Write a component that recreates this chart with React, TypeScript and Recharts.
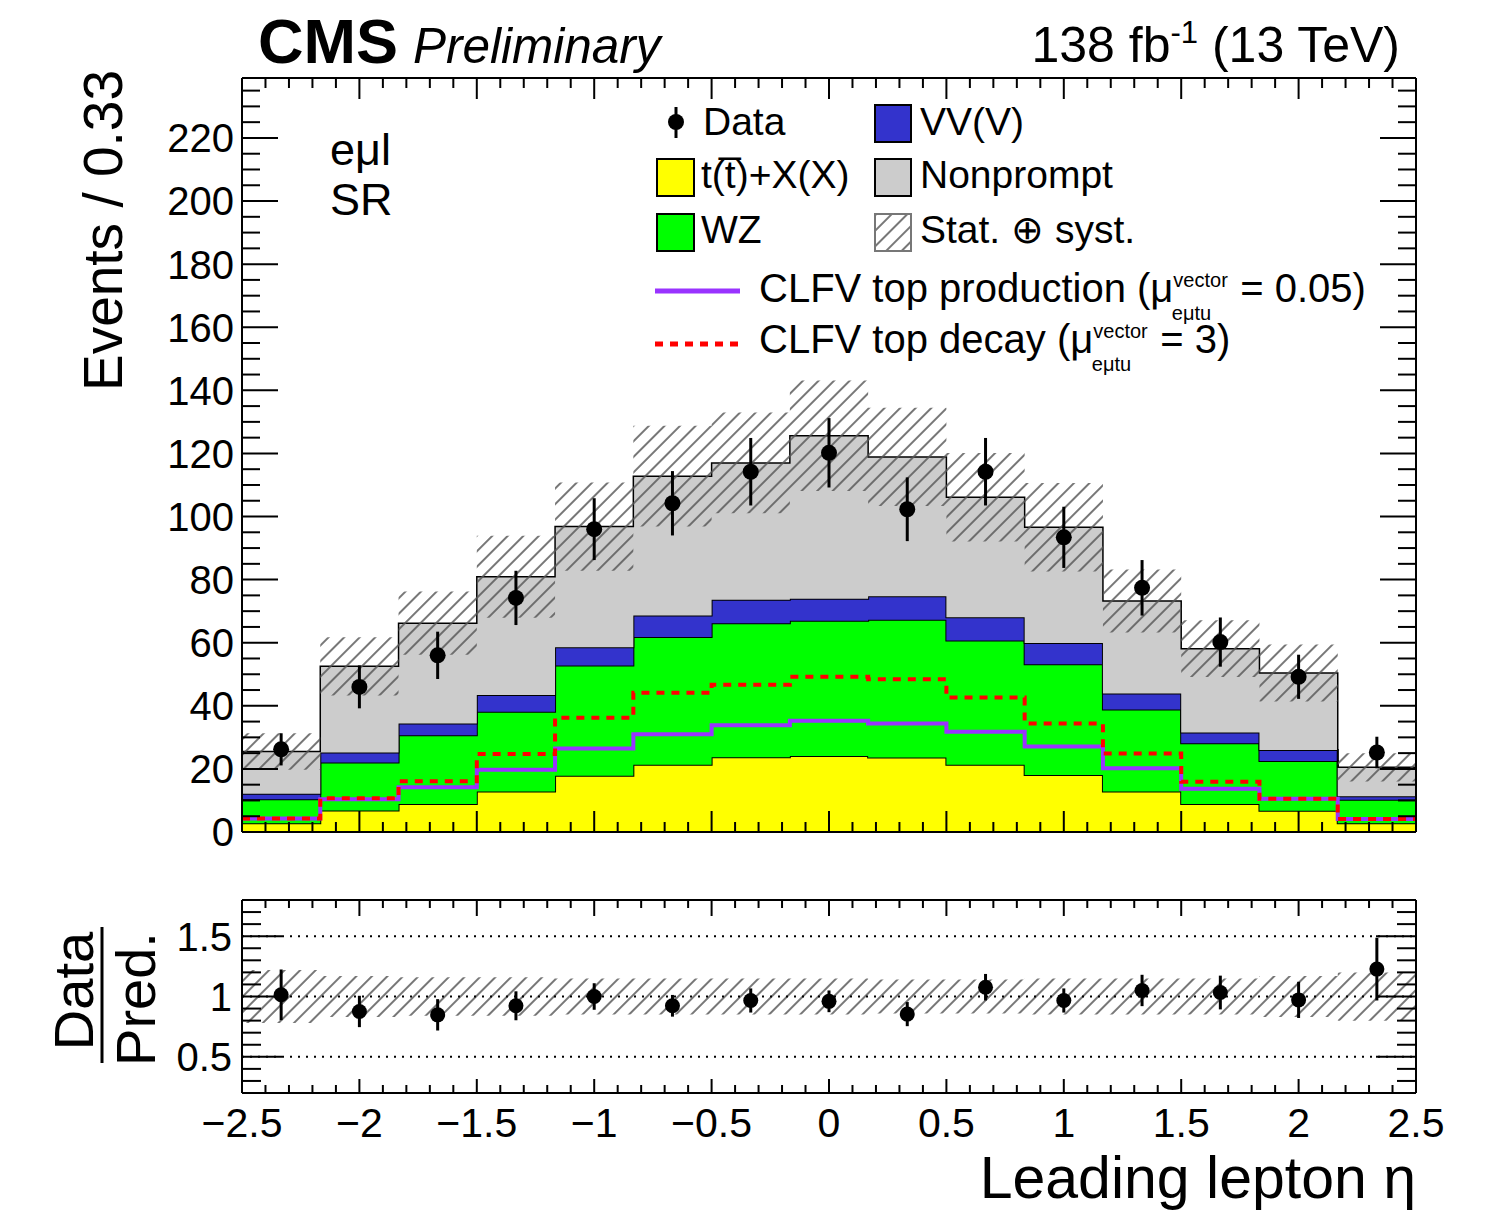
import {
  Area,
  ComposedChart,
  ErrorBar,
  Line,
  ReferenceLine,
  Scatter,
  XAxis,
  YAxis,
} from 'recharts';

const FONT = '"Liberation Sans", Arial, Helvetica, sans-serif';

// binning of leading lepton eta: 15 bins of width 1/3
const BIN_EDGES = [
  -2.5, -2.1667, -1.8333, -1.5, -1.1667, -0.8333, -0.5, -0.1667, 0.1667, 0.5, 0.8333, 1.1667, 1.5, 1.8333,
  2.1667, 2.5,
];
const BIN_CENTERS = [
  -2.3333, -2, -1.6667, -1.3333, -1, -0.6667, -0.3333, 0, 0.3333, 0.6667, 1, 1.3333, 1.6667, 2, 2.3333,
];

// stacked backgrounds (per bin)
const ttX = [2.8, 6.8, 8.9, 12.8, 17.8, 21.3, 23.7, 24.1, 23.6, 21.3, 18.1, 12.8, 8.9, 6.7, 2.8];
const wz = [7.6, 15.2, 21.8, 25.3, 35.0, 40.5, 42.5, 42.9, 43.7, 39.4, 35.1, 26.0, 19.2, 15.8, 7.4];
const vvv = [1.7, 3.2, 3.7, 5.3, 5.8, 6.8, 7.4, 6.9, 7.4, 7.4, 6.7, 5.1, 3.4, 3.5, 1.1];
const nonprompt = [13.4, 27.3, 31.8, 37.5, 38.2, 44.2, 43.4, 51.7, 44.2, 38.0, 36.7, 29.3, 26.6, 24.4, 9.2];
const bkgUnc = [5.8, 9.2, 10.0, 13.0, 14.0, 16.0, 16.0, 17.5, 15.6, 14.0, 14.0, 10.0, 9.0, 9.0, 4.5];

// signals
const sigProd = [4.3, 10.4, 14.2, 19.7, 26.5, 31.0, 33.8, 35.3, 34.4, 31.8, 27.1, 20.2, 13.7, 10.5, 4.1];
const sigDecay = [4.3, 10.7, 16.1, 24.7, 36.2, 44.1, 46.7, 49.2, 48.4, 42.6, 34.4, 24.9, 15.9, 10.5, 4.1];

// observed
const data = [26.2, 46, 56, 74.2, 96, 104.2, 114.2, 120.2, 102.3, 114.2, 93.4, 77.4, 60.2, 49.2, 25.2];
const dataErr = [5.1, 6.8, 7.5, 8.6, 9.8, 10.2, 10.7, 11.0, 10.1, 10.7, 9.7, 8.8, 7.8, 7.0, 5.0];

// ratio panel
const ratio = [1.014, 0.876, 0.848, 0.923, 1.0, 0.923, 0.967, 0.96, 0.854, 1.077, 0.967, 1.05, 1.033, 0.972, 1.227];
const ratioErr = [0.21, 0.13, 0.13, 0.12, 0.11, 0.09, 0.1, 0.09, 0.1, 0.11, 0.1, 0.13, 0.14, 0.15, 0.26];
const ratioUnc = [0.22, 0.17, 0.16, 0.16, 0.15, 0.15, 0.15, 0.15, 0.14, 0.14, 0.15, 0.15, 0.15, 0.17, 0.2];

const X_MAJOR = [-2.5, -2, -1.5, -1, -0.5, 0, 0.5, 1, 1.5, 2, 2.5];
const Y_MAJOR = [0, 20, 40, 60, 80, 100, 120, 140, 160, 180, 200, 220];
const RATIO_MAJOR = [0.5, 1, 1.5];

const Y_MAX = 239;
const MAIN_TOP = 78;
const PLOT_RIGHT = 1416;
const RATIO_TOP = 20;

const r1 = (v: number) => Math.round(v * 10) / 10;
const xTicks = Array.from({ length: 51 }, (_, i) => r1(-2.5 + i * 0.1));
const mainYTicks = Array.from({ length: 48 }, (_, i) => i * 5);
const ratioYTicks = Array.from({ length: 17 }, (_, i) => r1(0.2 + i * 0.1));

const fmt = (v: number) => (v < 0 ? `\u2212${Math.abs(v)}` : `${v}`);

const stepRows = BIN_EDGES.map((x, i) => {
  const k = Math.min(i, ttX.length - 1);
  const total = ttX[k] + wz[k] + vvv[k] + nonprompt[k];
  return {
    x,
    ttx: ttX[k],
    wz: wz[k],
    vv: vvv[k],
    np: nonprompt[k],
    band: [total - bkgUnc[k], total + bkgUnc[k]],
    prod: sigProd[k],
    dec: sigDecay[k],
    rband: [1 - ratioUnc[k], 1 + ratioUnc[k]],
  };
});

const dataPts = BIN_CENTERS.map((x, i) => ({ x, y: data[i], err: dataErr[i] }));
const ratioPts = BIN_CENTERS.map((x, i) => ({ x, y: ratio[i], err: ratioErr[i] }));

function MainXTick(props: any) {
  const { x, y, payload } = props;
  const len = X_MAJOR.includes(payload.value) ? 21 : 10;
  return (
    <g>
      <line x1={x} y1={y} x2={x} y2={y - len} stroke="#000" strokeWidth={2} />
      <line x1={x} y1={MAIN_TOP} x2={x} y2={MAIN_TOP + len} stroke="#000" strokeWidth={2} />
    </g>
  );
}

function MainYTick(props: any) {
  const { x, y, payload } = props;
  const major = Y_MAJOR.includes(payload.value);
  const len = major ? 36 : 18;
  return (
    <g>
      <line x1={x} y1={y} x2={x + len} y2={y} stroke="#000" strokeWidth={2} />
      <line x1={PLOT_RIGHT} y1={y} x2={PLOT_RIGHT - len} y2={y} stroke="#000" strokeWidth={2} />
      {major && (
        <text x={x - 8} y={y} dy="0.36em" textAnchor="end" fontSize={40} fontFamily={FONT} fill="#000">
          {payload.value}
        </text>
      )}
    </g>
  );
}

function RatioXTick(props: any) {
  const { x, y, payload } = props;
  const major = X_MAJOR.includes(payload.value);
  return (
    <g>
      <line x1={x} y1={y} x2={x} y2={y - (major ? 14 : 8)} stroke="#000" strokeWidth={2} />
      <line x1={x} y1={RATIO_TOP} x2={x} y2={RATIO_TOP + (major ? 16 : 8)} stroke="#000" strokeWidth={2} />
      {major && (
        <text x={x} y={y + 44} textAnchor="middle" fontSize={41} fontFamily={FONT} fill="#000">
          {fmt(payload.value)}
        </text>
      )}
    </g>
  );
}

function RatioYTick(props: any) {
  const { x, y, payload } = props;
  const major = RATIO_MAJOR.includes(payload.value);
  const len = major ? 40 : 19;
  return (
    <g>
      <line x1={x} y1={y} x2={x + len} y2={y} stroke="#000" strokeWidth={2} />
      <line x1={PLOT_RIGHT} y1={y} x2={PLOT_RIGHT - len} y2={y} stroke="#000" strokeWidth={2} />
      {major && (
        <text x={x - 10} y={y} dy="0.36em" textAnchor="end" fontSize={40} fontFamily={FONT} fill="#000">
          {payload.value}
        </text>
      )}
    </g>
  );
}

const dot = (r: number) => (p: any) => <circle cx={p.cx} cy={p.cy} r={r} fill="#000" />;

function Hatch({ id }: { id: string }) {
  return (
    <pattern id={id} patternUnits="userSpaceOnUse" width={11} height={11} patternTransform="rotate(45)">
      <line x1={1} y1={0} x2={1} y2={11} stroke="#555" strokeWidth={1.6} />
    </pattern>
  );
}

const axisLine = { stroke: '#000', strokeWidth: 2 };

export default function App() {
  return (
    <div style={{ position: 'absolute', left: 0, top: 0, width: 1487, height: 1214, background: '#fff' }}>
      <div style={{ position: 'absolute', left: 0, top: 0 }}>
        <ComposedChart width={1487} height={870} data={stepRows} margin={{ top: 78, right: 71, bottom: 37, left: 241 }}>
          <defs>
            <Hatch id="hatchMain" />
          </defs>
          <Area type="stepAfter" dataKey="ttx" stackId="bkg" fill="#ffff00" fillOpacity={1} stroke="#000" strokeWidth={2} dot={false} activeDot={false} isAnimationActive={false} />
          <Area type="stepAfter" dataKey="wz" stackId="bkg" fill="#00ff00" fillOpacity={1} stroke="#000" strokeWidth={2} dot={false} activeDot={false} isAnimationActive={false} />
          <Area type="stepAfter" dataKey="vv" stackId="bkg" fill="#3333cc" fillOpacity={1} stroke="#000" strokeWidth={2} dot={false} activeDot={false} isAnimationActive={false} />
          <Area type="stepAfter" dataKey="np" stackId="bkg" fill="#cccccc" fillOpacity={1} stroke="#000" strokeWidth={1.5} dot={false} activeDot={false} isAnimationActive={false} />
          <Area type="stepAfter" dataKey="band" fill="url(#hatchMain)" fillOpacity={1} stroke="none" dot={false} activeDot={false} isAnimationActive={false} />
          <Line type="stepAfter" dataKey="prod" stroke="#9933ff" strokeWidth={4} dot={false} activeDot={false} isAnimationActive={false} />
          <Line type="stepAfter" dataKey="dec" stroke="#ff0000" strokeWidth={4} strokeDasharray="8 7" dot={false} activeDot={false} isAnimationActive={false} />
          <Scatter data={dataPts} dataKey="y" fill="#000" shape={dot(8)} isAnimationActive={false}>
            <ErrorBar dataKey="err" direction="y" width={0} stroke="#000" strokeWidth={3} />
          </Scatter>
          <ReferenceLine y={Y_MAX} stroke="#000" strokeWidth={2} />
          <ReferenceLine x={2.5} stroke="#000" strokeWidth={2} />
          <XAxis dataKey="x" type="number" domain={[-2.5, 2.5]} ticks={xTicks} interval={0} tickSize={0} tickMargin={0} tickLine={false} axisLine={axisLine} height={1} tick={MainXTick} allowDataOverflow />
          <YAxis type="number" domain={[0, Y_MAX]} ticks={mainYTicks} interval={0} tickSize={0} tickMargin={0} tickLine={false} axisLine={axisLine} width={1} tick={MainYTick} allowDataOverflow />
        </ComposedChart>
      </div>

      <div style={{ position: 'absolute', left: 0, top: 880 }}>
        <ComposedChart width={1487} height={334} data={stepRows} margin={{ top: 20, right: 71, bottom: 120, left: 241 }}>
          <defs>
            <Hatch id="hatchRatio" />
          </defs>
          <Area type="stepAfter" dataKey="rband" fill="url(#hatchRatio)" fillOpacity={1} stroke="none" dot={false} activeDot={false} isAnimationActive={false} />
          <ReferenceLine y={0.5} stroke="#000" strokeWidth={2} strokeDasharray="2 6" />
          <ReferenceLine y={1} stroke="#000" strokeWidth={2} strokeDasharray="2 6" />
          <ReferenceLine y={1.5} stroke="#000" strokeWidth={2} strokeDasharray="2 6" />
          <Scatter data={ratioPts} dataKey="y" fill="#000" shape={dot(7.5)} isAnimationActive={false}>
            <ErrorBar dataKey="err" direction="y" width={0} stroke="#000" strokeWidth={3} />
          </Scatter>
          <ReferenceLine y={1.8} stroke="#000" strokeWidth={2} />
          <ReferenceLine x={2.5} stroke="#000" strokeWidth={2} />
          <XAxis dataKey="x" type="number" domain={[-2.5, 2.5]} ticks={xTicks} interval={0} tickSize={0} tickMargin={0} tickLine={false} axisLine={axisLine} height={1} tick={RatioXTick} allowDataOverflow />
          <YAxis type="number" domain={[0.2, 1.8]} ticks={ratioYTicks} interval={0} tickSize={0} tickMargin={0} tickLine={false} axisLine={axisLine} width={1} tick={RatioYTick} allowDataOverflow />
        </ComposedChart>
      </div>

      <svg width={1487} height={1214} style={{ position: 'absolute', left: 0, top: 0, pointerEvents: 'none' }} fontFamily={FONT}>
        <defs>
          <Hatch id="hatchLegend" />
        </defs>
        {/* header */}
        <text x={258} y={63} fontSize={63} fontWeight="bold">CMS</text>
        <text x={413} y={63} fontSize={49.5} fontStyle="italic">Preliminary</text>
        <text x={1400} y={62} fontSize={50} textAnchor="end">
          138 fb<tspan dy={-19} fontSize={31}>-1</tspan>
          <tspan dy={19}> (13 TeV)</tspan>
        </text>

        {/* channel label */}
        <text x={330} y={165} fontSize={45}>eμl</text>
        <text x={330} y={215} fontSize={45}>SR</text>

        {/* axis titles */}
        <text transform="translate(122,70) rotate(-90)" textAnchor="end" fontSize={55}>Events / 0.33</text>
        <text x={1416} y={1198} fontSize={59} textAnchor="end">Leading lepton η</text>
        <text transform="translate(93,991) rotate(-90)" textAnchor="middle" fontSize={56}>Data</text>
        <line x1={102} y1={927} x2={102} y2={1063} stroke="#000" strokeWidth={3} />
        <text transform="translate(155,999) rotate(-90)" textAnchor="middle" fontSize={56}>Pred.</text>

        {/* legend */}
        <line x1={676} y1={107} x2={676} y2={138} stroke="#000" strokeWidth={3} />
        <circle cx={676} cy={122} r={8} fill="#000" />
        <text x={703} y={135} fontSize={39}>Data</text>
        <rect x={657} y={159} width={37} height={37} fill="#ffff00" stroke="#000" strokeWidth={2} />
        <text x={701} y={188} fontSize={39}>t(t̅)+X(X)</text>
        <rect x={657} y={214} width={37} height={37} fill="#00ff00" stroke="#000" strokeWidth={2} />
        <text x={701} y={243} fontSize={39}>WZ</text>
        <rect x={875} y={105} width={36} height={37} fill="#3333cc" stroke="#000" strokeWidth={2} />
        <text x={920} y={135} fontSize={39}>VV(V)</text>
        <rect x={875} y={159} width={36} height={37} fill="#cccccc" stroke="#000" strokeWidth={2} />
        <text x={920} y={188} fontSize={39}>Nonprompt</text>
        <rect x={875} y={214} width={36} height={37} fill="url(#hatchLegend)" stroke="#777" strokeWidth={2} />
        <text x={920} y={243} fontSize={39}>Stat. ⊕ syst.</text>
        <line x1={655} y1={291} x2={740} y2={291} stroke="#9933ff" strokeWidth={5} />
        <text x={759} y={302} fontSize={40}>
          CLFV top production (μ<tspan dy={-15} fontSize={20}>vector</tspan>
          <tspan dx={-56} dy={33} fontSize={20}>eμtu</tspan>
          <tspan dx={18} dy={-18}> = 0.05)</tspan>
        </text>
        <line x1={655} y1={344} x2={740} y2={344} stroke="#ff0000" strokeWidth={5} strokeDasharray="8 7" />
        <text x={759} y={353} fontSize={40}>
          CLFV top decay (μ<tspan dy={-15} fontSize={20}>vector</tspan>
          <tspan dx={-56} dy={33} fontSize={20}>eμtu</tspan>
          <tspan dx={18} dy={-18}> = 3)</tspan>
        </text>
      </svg>
    </div>
  );
}
